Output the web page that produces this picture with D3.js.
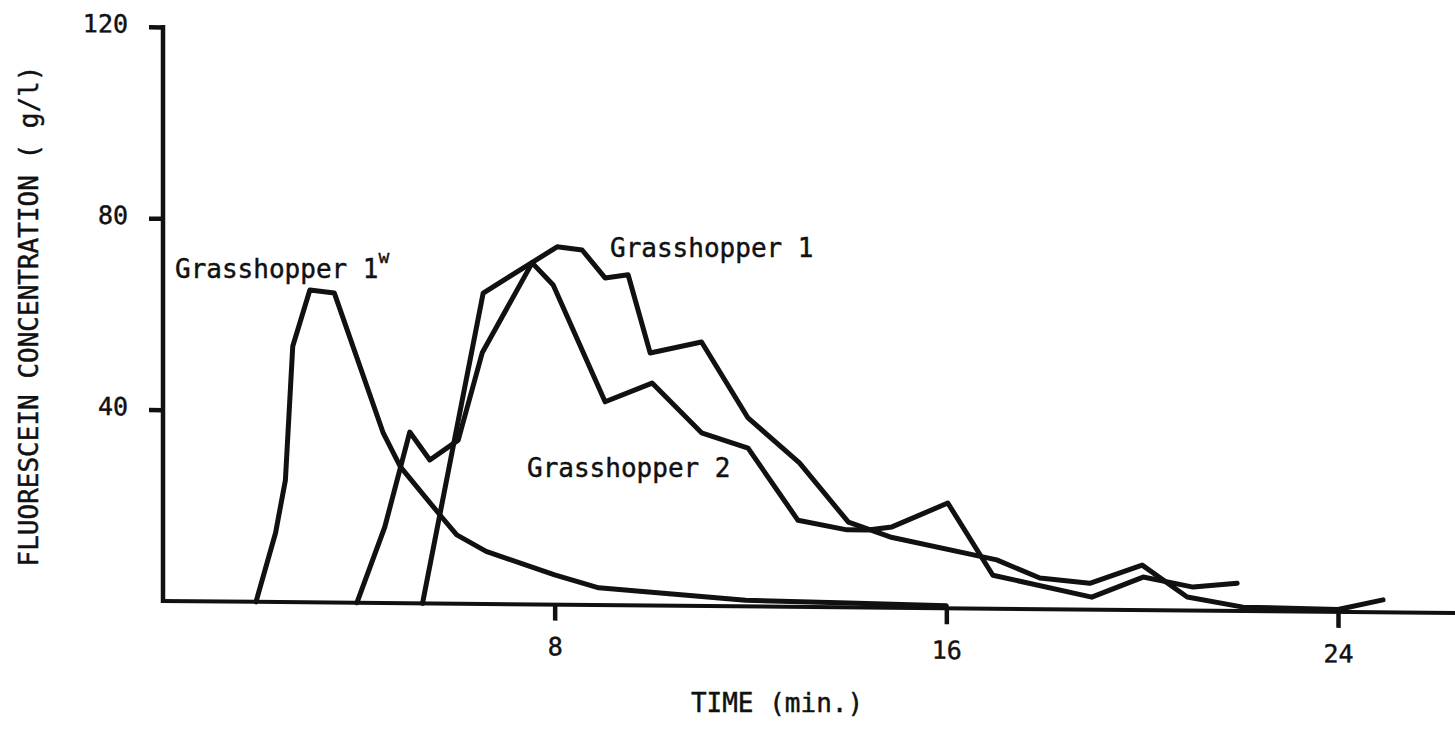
<!DOCTYPE html>
<html>
<head>
<meta charset="utf-8">
<script src="https://cdn.jsdelivr.net/npm/d3@7"></script>
<style>
  html, body { margin: 0; padding: 0; background: #fff; }
  svg { display: block; }
  text { font-family: "DejaVu Sans Mono", "Liberation Mono", monospace; fill: #111; stroke: #111; stroke-width: 0.45px; }
</style>
</head>
<body>
<svg id="chart" width="1455" height="730"></svg>
<script>
// ---- data ----
const xTicks = [8, 16, 24];
const yTicks = [40, 80, 120];

const timeG1W = [1.9, 2.3, 2.5, 2.65, 3.0, 3.5, 4.5, 4.85, 5.7, 6.0, 6.6, 8.0, 8.9, 11.9, 14.0, 16.0];
const concG1W = [0, 14.5, 25.5, 53.5, 65.3, 64.7, 35.5, 28.5, 18, 14.4, 11, 6.2, 3.6, 1.3, 0.9, 0.5];

const timeG1 = [5.3, 6.54, 8.05, 8.56, 9.03, 9.5, 9.95, 11.0, 11.95, 13.0, 14.0, 14.85, 17.03, 17.91, 18.93, 20.0, 20.92, 22.06, 24.0, 24.92];
const concG1 = [0, 65.0, 74.8, 74.2, 68.4, 69.1, 52.8, 55.2, 39.4, 30.1, 17.8, 14.8, 10.2, 6.5, 5.5, 9.4, 2.8, 0.8, 0.5, 2.6];

const timeG2 = [3.96, 4.53, 5.04, 5.45, 6.03, 6.52, 7.54, 7.97, 9.03, 9.99, 11.0, 11.95, 12.97, 13.97, 14.4, 14.89, 16.03, 16.95, 18.97, 20.02, 21.04, 21.94];
const concG2 = [0, 15.9, 35.8, 30.0, 34.2, 52.5, 71.4, 66.8, 42.5, 46.5, 36.2, 33.1, 18.1, 16.2, 16.2, 16.9, 22.0, 7.0, 2.6, 6.9, 4.9, 5.8];

const seriesNames = ["Grasshopper 1", "Grasshopper 2", "Grasshopper 1"];
const xTitle = "TIME (min.)";
const yTitle = "FLUORESCEIN CONCENTRATION ( g/l)";

// ---- layout ----
const svg = d3.select("#chart");
const W = 1455, H = 730;
const ox = 163, oy = 601;

const x = d3.scaleLinear().domain([0, 24]).range([0, 1175]);
const y = d3.scaleLinear().domain([0, 120]).range([0, -574]);

const g = svg.append("g").attr("transform", `translate(${ox},${oy}) skewY(0.53)`);

// y axis
const yAxis = d3.axisLeft(y).tickValues(yTicks).tickSize(14).tickSizeOuter(0).tickPadding(21);
const gy = g.append("g").call(yAxis);
gy.select(".domain").remove();
gy.selectAll(".tick line").attr("stroke", "#111").attr("stroke-width", 4.5);
gy.selectAll(".tick text").attr("font-size", 25).attr("dy", "0.22em")
  .attr("font-family", "DejaVu Sans Mono").attr("fill", "#111");
g.append("line").attr("x1", 0).attr("x2", 0).attr("y1", y(0) + 2).attr("y2", y(120) - 2)
  .attr("stroke", "#111").attr("stroke-width", 4.5);

// x axis
const xAxis = d3.axisBottom(x).tickValues(xTicks).tickSize(16).tickSizeOuter(0).tickPadding(17);
const gx = g.append("g").call(xAxis);
gx.select(".domain").remove();
gx.selectAll(".tick line").attr("stroke", "#111").attr("stroke-width", 4.5);
gx.selectAll(".tick text").attr("font-size", 25)
  .attr("font-family", "DejaVu Sans Mono").attr("fill", "#111");
g.append("line").attr("x1", -2).attr("x2", W - ox).attr("y1", 0).attr("y2", 0)
  .attr("stroke", "#111").attr("stroke-width", 4);

// series lines
const line = d3.line().x(d => x(d[0])).y(d => y(d[1]));
const series = [
  d3.zip(timeG1W, concG1W),
  d3.zip(timeG1, concG1),
  d3.zip(timeG2, concG2)
];
g.selectAll("path.series").data(series).enter().append("path")
  .attr("class", "series")
  .attr("d", line)
  .attr("fill", "none")
  .attr("stroke", "#111")
  .attr("stroke-width", 5)
  .attr("stroke-linejoin", "round")
  .attr("stroke-linecap", "round");

// series labels
const lw = svg.append("text").attr("x", 175).attr("y", 278).attr("font-size", 26);
lw.append("tspan").text(seriesNames[2]);
lw.append("tspan").attr("font-size", 18).attr("dy", -15).text("w");

svg.append("text").attr("x", 610).attr("y", 257).attr("font-size", 26).text(seriesNames[0]);
svg.append("text").attr("x", 527).attr("y", 477).attr("font-size", 26).text(seriesNames[1]);

// axis titles
svg.append("text").attr("x", 777).attr("y", 712).attr("text-anchor", "middle")
  .attr("font-size", 26).text(xTitle);
svg.append("text").attr("transform", "translate(38,316) rotate(-90)")
  .attr("text-anchor", "middle").attr("font-size", 26).text(yTitle);
</script>
</body>
</html>
